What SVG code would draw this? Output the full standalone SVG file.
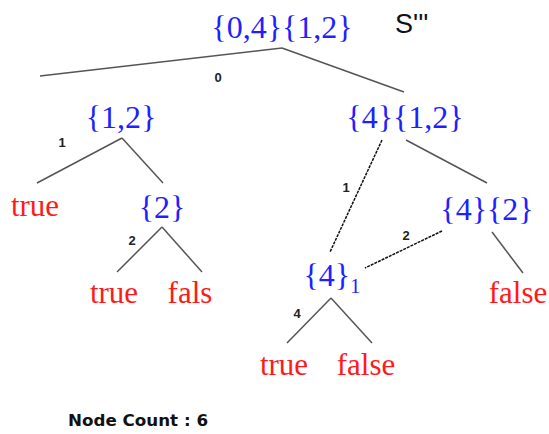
<svg xmlns="http://www.w3.org/2000/svg" width="549" height="434" viewBox="0 0 549 434">
<style>
.n{font-family:"Liberation Serif","Times New Roman",serif;font-size:32px;fill:#1f1fff;text-anchor:middle}
.l{font-family:"Liberation Serif","Times New Roman",serif;font-size:31px;fill:#ff1a1a;text-anchor:middle}
.e{font-family:"Liberation Sans",Arial,sans-serif;font-size:13px;font-weight:bold;fill:#222;text-anchor:middle}
.s{stroke:#555;stroke-width:1.5;fill:none}
.d{stroke:#111;stroke-width:1.5;stroke-dasharray:3 1;fill:none}
</style>
<rect width="549" height="434" fill="#fff"/>
<g id="connectors">
<line class="s" x1="40" y1="76" x2="282" y2="48"/>
<line class="s" x1="282" y1="48" x2="404" y2="92"/>
<line class="s" x1="122" y1="138" x2="37" y2="183"/>
<line class="s" x1="122" y1="138" x2="163" y2="183"/>
<line class="s" x1="162" y1="227" x2="117" y2="272"/>
<line class="s" x1="162" y1="227" x2="202" y2="272"/>
<line class="d" x1="382" y1="140" x2="330" y2="252"/>
<line class="s" x1="406" y1="140" x2="487" y2="183"/>
<line class="d" x1="442" y1="231" x2="365" y2="268"/>
<line class="s" x1="492" y1="232" x2="523" y2="273"/>
<line class="s" x1="331" y1="298" x2="287" y2="343"/>
<line class="s" x1="331" y1="298" x2="372" y2="343"/>
<text class="e" x="218" y="82">0</text>
<text class="e" x="62" y="147">1</text>
<text class="e" x="132" y="245">2</text>
<text class="e" x="346" y="192">1</text>
<text class="e" x="406" y="240">2</text>
<text class="e" x="297" y="318">4</text>
</g>
<g id="root"><text class="n" x="282" y="38">{0,4}{1,2}</text></g>
<g id="title"><text x="395" y="33" font-family="Liberation Sans,Arial,sans-serif" font-size="27" fill="#111">S'''</text></g>
<g id="n12"><text class="n" x="121" y="128">{1,2}</text></g>
<g id="n4_12"><text class="n" x="405" y="128">{4}{1,2}</text></g>
<g id="leaf_true1"><text class="l" x="35" y="216">true</text></g>
<g id="n2"><text class="n" x="162" y="218">{2}</text></g>
<g id="n4_2"><text class="n" x="487" y="220">{4}{2}</text></g>
<g id="leaf_true2"><text class="l" x="114" y="303">true</text></g>
<g id="leaf_fals"><text class="l" x="190" y="303">fals</text></g>
<g id="leaf_false1"><text class="l" x="518" y="303">false</text></g>
<g id="n4_1"><text class="n" x="332" y="286">{4}<tspan font-size="21" dy="7">1</tspan></text></g>
<g id="leaf_true3"><text class="l" x="284" y="375">true</text></g>
<g id="leaf_false2"><text class="l" x="366" y="375">false</text></g>
<g id="count"><text x="68" y="426" font-family="DejaVu Sans,Verdana,sans-serif" font-weight="bold" font-size="16" fill="#111" textLength="140" lengthAdjust="spacingAndGlyphs">Node Count : 6</text></g>
</svg>
